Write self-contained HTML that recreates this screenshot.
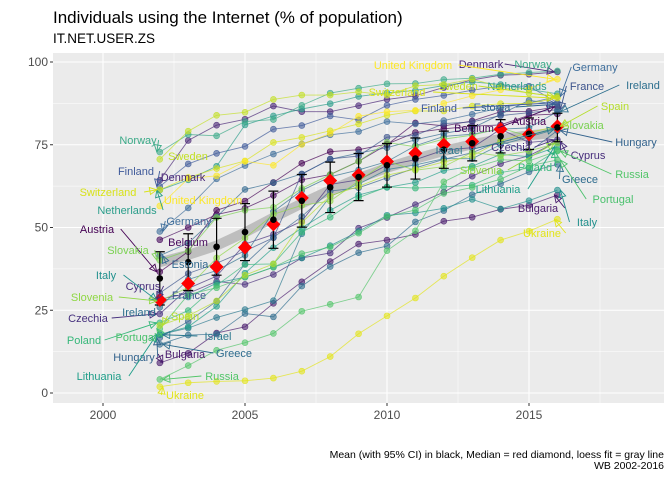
<!DOCTYPE html>
<html><head><meta charset="utf-8"><style>
html,body{margin:0;padding:0;background:#fff;}
svg{display:block;font-family:"Liberation Sans",Arial,sans-serif;}
</style></head><body>
<svg id="chart" width="672" height="480" viewBox="0 0 672 480">
<text x="53" y="23" font-size="17" fill="#000">Individuals using the Internet (% of population)</text>
<text x="53" y="43" font-size="13.5" fill="#000">IT.NET.USER.ZS</text>
<rect x="53" y="53" width="611" height="350" fill="#ebebeb"/>
<g id="grid"></g><g id="axes"></g><g id="loess"></g><g id="series"></g><g id="stats"></g><g id="labels"></g>
<text x="664" y="458" font-size="10.5" text-anchor="end" fill="#000">Mean (with 95% CI) in black, Median = red diamond, loess fit = gray line</text>
<text x="664" y="469" font-size="10.5" text-anchor="end" fill="#000">WB 2002-2016</text>
</svg>
<script>
const years=[2002,2003,2004,2005,2006,2007,2008,2009,2010,2011,2012,2013,2014,2015,2016];
const xTicks=[2000,2005,2010,2015];
const yTicks=[0,25,50,75,100];
const countries=["Austria","Belgium","Bulgaria","Cyprus","Czechia","Denmark","Estonia","Finland","France","Germany","Greece","Hungary","Ireland","Israel","Italy","Lithuania","Netherlands","Norway","Poland","Portugal","Russia","Slovakia","Slovenia","Spain","Sweden","Switzerland","United Kingdom","Ukraine"];
const values={
"Austria":[36.6,42.7,55.2,58,63.6,69.4,72.9,73.5,75.2,78.7,79.8,80.6,81,83.9,84.3],
"Belgium":[46.3,50,53.9,55.8,59.7,64.4,66,70,75,81.6,80.7,82.2,85,85.1,86.5],
"Bulgaria":[9.1,12,18.1,20,27.1,33.6,39.7,45,46.2,47.9,51.9,53.1,55.5,56.7,59.8],
"Cyprus":[28.3,30.1,33.7,32.8,35.8,40.8,42.3,49.8,53,56.9,60.7,65.5,69.3,71.7,75.9],
"Czechia":[23.9,31.6,35.3,45,47.9,51.9,63,64.4,68.8,70.5,73.4,74.1,79.7,75.7,76.5],
"Denmark":[64.3,76.3,80.9,82.7,86.7,85,85,86.8,88.7,89.8,92.3,94.6,96,96.3,97],
"Estonia":[41.5,45.3,53.2,61.5,63.5,66.2,70.6,72.5,74.1,76.5,78.4,80,84.2,88.4,87.2],
"Finland":[62.4,69.2,72.4,74.5,79.7,80.8,83.7,82.5,86.9,88.7,89.9,91.5,92.7,92.7,87.7],
"France":[30.2,36.1,39.2,42.9,46.9,66.1,70.7,71.6,77.3,77.8,81.4,81.9,83.8,84.7,85.6],
"Germany":[48.8,55.9,64.7,68.7,72.2,75.2,78,79,82,81.3,82.3,84.2,86.2,87.6,89.6],
"Greece":[14.7,17.5,17.8,24,23,32.3,38.2,42.4,44.4,51.7,55.1,59.9,63.2,66.8,69.1],
"Hungary":[16.7,21.6,27.7,39,47,53.3,61,62,65,68,70.6,72.6,76.1,72.8,79.3],
"Ireland":[25.9,34.3,37,41.6,54.8,61.2,65.3,67.4,69.9,74.7,77.5,78.2,79.7,80.1,85],
"Israel":[17.6,19.6,22.8,25.2,27.9,48.1,59.4,63.1,67.5,68.9,70.8,70.8,75,77.4,79.8],
"Italy":[28,29,33.2,35,38,40.8,44.5,48.8,53.7,54.4,55.8,58.5,55.6,58.1,61.3],
"Lithuania":[17.7,20,26.2,36.2,43.9,49.9,55.2,59.8,62.1,63.6,67.2,68.5,72.1,71.4,74.4],
"Netherlands":[61.3,64.4,68.5,81,83.7,85.8,87.4,89.6,90.7,91.4,92.9,94,93.2,91.7,90.4],
"Norway":[72.8,78.1,77.7,82,82.6,86.9,90.6,92.1,93.4,93.5,94.7,95.1,96.3,96.8,97.3],
"Poland":[21.2,24.9,32.5,38.8,39,48.6,53.1,59,62.3,61.9,62.3,62.8,66.6,68,73.3],
"Portugal":[19.4,29.7,31.8,35,38,42.1,44.1,48.3,53.3,55.3,60.3,62.1,64.6,68.6,70.4],
"Russia":[4.1,8.3,12.9,15.2,18,24.7,26.8,29,43,49,63.8,68,70.5,70.1,73.1],
"Slovakia":[40.1,43,53,55.2,56.1,61.8,66,70,75.7,74.4,76.7,77.9,80,77.6,80.5],
"Slovenia":[27.8,31.9,40.8,46.8,54,56.7,58,64,70,67.3,68.4,72.7,71.6,73.1,75.5],
"Spain":[20.4,23.3,27.8,35.6,39,51.5,59.6,62.4,65.8,67.6,69.8,71.6,76.2,78.7,80.6],
"Sweden":[70.6,79.1,83.9,84.8,88.7,90,90,91,90,92.8,93.2,94.8,92.5,90.6,89.6],
"Switzerland":[61.4,65.1,67.8,70.1,75.7,77.2,79.2,81.3,83.9,85.2,85.2,86.7,87.4,87.5,89.1],
"United Kingdom":[56.5,64.8,65.6,70,68.8,75.1,78.4,83.6,85,85.4,87.5,89.8,91.6,92,94.8],
"Ukraine":[1.9,3.1,3.5,3.7,4.5,6.6,11,17.9,23.3,28.7,35.3,40.9,46.2,48.9,52.5]
};
const colors={"Austria":"#440154","Belgium":"#46085c","Bulgaria":"#481a6c","Cyprus":"#472d7b","Czechia":"#46307e","Denmark":"#482576","Estonia":"#31688e","Finland":"#3f5a9a","France":"#3b528b","Germany":"#3e6e9b","Greece":"#2e6c8e","Hungary":"#33638d","Ireland":"#2d6f8e","Israel":"#2a788e","Italy":"#21908d","Lithuania":"#1f9e89","Netherlands":"#2a9d8a","Norway":"#3baa88","Poland":"#35b779","Portugal":"#4ac16d","Russia":"#52c569","Slovakia":"#7ad151","Slovenia":"#8fd744","Spain":"#b5de2b","Sweden":"#c2df23","Switzerland":"#d8e219","United Kingdom":"#fde725","Ukraine":"#e2e418"};
const startLab={"Norway":[138,140],"Sweden":[188,156],"Finland":[136,171],"Denmark":[183,177],"Switzerland":[108,192],"United Kingdom":[203,200],"Netherlands":[127,210],"Germany":[189,221],"Austria":[97,229],"Belgium":[188,242],"Slovakia":[128,250],"Estonia":[190,264],"Italy":[106,275],"Cyprus":[143,286],"France":[189,295],"Slovenia":[92,297],"Czechia":[88,318],"Ireland":[139,312],"Spain":[185,316],"Poland":[84,340],"Portugal":[136,337],"Israel":[218,336],"Hungary":[134,357],"Bulgaria":[185,354],"Greece":[234,353],"Lithuania":[99,376],"Russia":[222,376],"Ukraine":[185,395]};
const endLab={"Germany":[595,67],"France":[587,86],"Ireland":[643,85],"Spain":[615,106],"Slovakia":[583,125],"Hungary":[636,142],"Cyprus":[588,155],"Russia":[632,174],"Greece":[580,179],"Portugal":[613,199],"Italy":[587,222],"United Kingdom":[413,65],"Denmark":[481,64],"Norway":[533,64],"Switzerland":[397,92],"Sweden":[458,86],"Netherlands":[517,86],"Finland":[439,108],"Estonia":[492,107],"Austria":[529,121],"Belgium":[474,128],"Israel":[449,150],"Czechia":[511,147],"Slovenia":[481,170],"Poland":[535,167],"Lithuania":[498,189],"Bulgaria":[538,208],"Ukraine":[542,233]};

const NS="http://www.w3.org/2000/svg";
function xs(y){return 103+(y-2000)*28.4;}
function ys(v){return 393-v*3.31;}
function mk(tag,attrs,parent){const e=document.createElementNS(NS,tag);for(const k in attrs)e.setAttribute(k,attrs[k]);parent.appendChild(e);return e;}
const grid=document.getElementById('grid'),axes=document.getElementById('axes');
for(let i=0;i<xTicks.length;i++){
  const t=xTicks[i];
  const g=mk('line',{x1:xs(t),x2:xs(t),y1:53,y2:403,stroke:'#fff','stroke-width':1.1},grid);
  
  const m=mk('line',{x1:xs(t+2.5),x2:xs(t+2.5),y1:53,y2:403,stroke:'#fff','stroke-width':0.5},grid);
  
  mk('line',{x1:xs(t),x2:xs(t),y1:403,y2:406,stroke:'#333'},axes);
  const tx=mk('text',{x:xs(t),y:419,'font-size':12,'text-anchor':'middle',fill:'#4d4d4d'},axes);tx.textContent=t;
  
}
mk('line',{x1:xs(1997.5),x2:xs(1997.5),y1:53,y2:403,stroke:'#fff','stroke-width':0.5},grid);
for(let i=0;i<yTicks.length;i++){
  const t=yTicks[i];
  const g=mk('line',{x1:53,x2:664,y1:ys(t),y2:ys(t),stroke:'#fff','stroke-width':1.1},grid);
  
  if(i<yTicks.length-1){mk('line',{x1:53,x2:664,y1:ys(t+12.5),y2:ys(t+12.5),stroke:'#fff','stroke-width':0.5},grid);}
  mk('line',{x1:50,x2:53,y1:ys(t),y2:ys(t),stroke:'#333'},axes);
  const tx=mk('text',{x:48,y:ys(t)+4,'font-size':12,'text-anchor':'end',fill:'#4d4d4d'},axes);tx.textContent=t;
  
}
const means=[],meds=[],cis=[];
years.forEach((y,i)=>{
  const arr=countries.map(c=>values[c][i]).sort((a,b)=>a-b);
  const n=arr.length,m=arr.reduce((a,b)=>a+b,0)/n;
  const sd=Math.sqrt(arr.reduce((a,b)=>a+(b-m)*(b-m),0)/(n-1));
  means.push(m);cis.push(2.05*sd/Math.sqrt(n));
  meds.push(n%2?arr[(n-1)/2]:(arr[n/2-1]+arr[n/2])/2);
});
const lo=document.getElementById('loess');
let pts=[];
years.forEach((y,i)=>{let s=0,w=0;for(let j=0;j<years.length;j++){const d=Math.abs(i-j);if(d<=3){const ww=Math.pow(1-Math.pow(d/4,3),3);s+=ww*means[j];w+=ww;}}pts.push(xs(y)+','+ys(s/w));});
const lp=mk('polyline',{points:pts.join(' '),fill:'none',stroke:'#bebebe','stroke-width':10,'stroke-linejoin':'round'},lo);

const ser=document.getElementById('series');
countries.forEach(c=>{
  const g=mk('g',{},ser);
  
  
  const p=years.map((y,i)=>xs(y)+','+ys(values[c][i])).join(' ');
  mk('polyline',{points:p,fill:'none',stroke:colors[c],'stroke-width':0.9,'stroke-opacity':0.7},g);
  years.forEach((y,i)=>{
    const pt=mk('circle',{cx:xs(y),cy:ys(values[c][i]),r:3,fill:colors[c],'fill-opacity':0.6,stroke:colors[c],'stroke-opacity':0.8,'stroke-width':0.6},g);
    
    
  });
});
const st=document.getElementById('stats');
years.forEach((y,i)=>{
  const x=xs(y),lo_=ys(means[i]-cis[i]),hi=ys(means[i]+cis[i]);
  const eb=mk('path',{d:`M${x},${lo_}V${hi}M${x-5},${lo_}H${x+5}M${x-5},${hi}H${x+5}`,stroke:'#000','stroke-width':1.2,fill:'none'},st);
  
  const md=ys(meds[i]);
  const d=mk('path',{d:`M${x},${md-7}L${x+7},${md}L${x},${md+7}L${x-7},${md}Z`,fill:'#ff0000'},st);
  
  const mc=mk('circle',{cx:x,cy:ys(means[i]),r:3.3,fill:'#000'},st);
  
});
const lab=document.getElementById('labels');
function arrow(x1,y1,x2,y2,col){
  mk('line',{x1:x1,y1:y1,x2:x2,y2:y2,stroke:col,'stroke-width':0.9},lab);
  const a=Math.atan2(y2-y1,x2-x1),L=7,W=3.5;
  const bx=x2-L*Math.cos(a),by=y2-L*Math.sin(a);
  const px=-Math.sin(a)*W,py=Math.cos(a)*W;
  mk('path',{d:`M${x2},${y2}L${bx+px},${by+py}L${bx-px},${by-py}Z`,fill:'none',stroke:col,'stroke-width':0.9},lab);
}
function place(c,pos,idx){
  const [lx,ly]=pos,px=xs(years[idx]),py=ys(values[c][idx]);
  const w=c.length*6.2;
  const ex=lx+(px>lx?w/2:-w/2);
  if(Math.abs(ex-px)>12||Math.abs(ly-py)>8) arrow(px>lx?lx+w/2+2:lx-w/2-2,ly,px+(px>lx?-3:3),py,colors[c]);
  const t=mk('text',{x:lx,y:ly+4,'font-size':11,'text-anchor':'middle',fill:colors[c]},lab);
  t.textContent=c;
  
  
}
countries.forEach(c=>{place(c,startLab[c],0);place(c,endLab[c],years.length-1);});
</script>
</body></html>
